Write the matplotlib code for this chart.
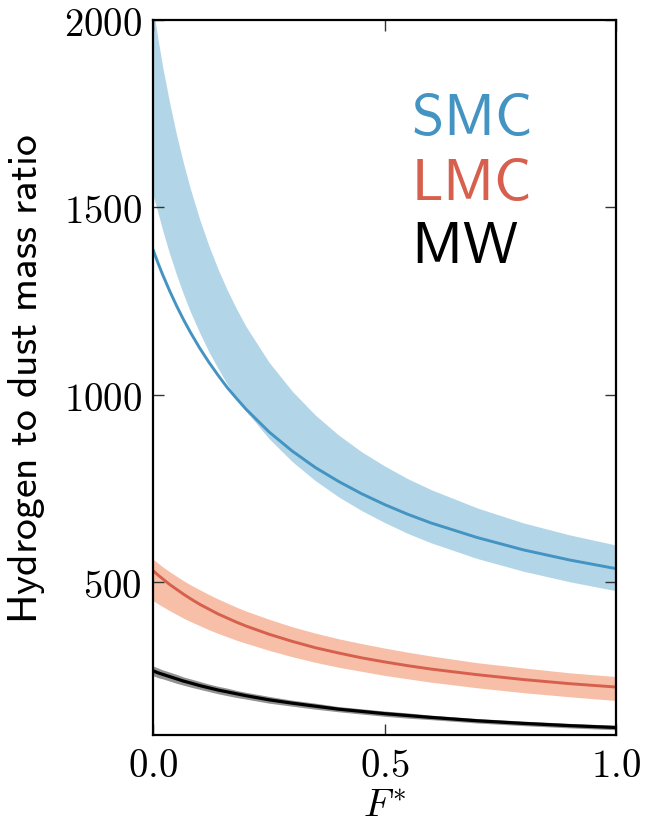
import matplotlib
matplotlib.use("Agg")
import matplotlib.pyplot as plt

plt.rcParams["mathtext.fontset"] = "cm"

f_star = [0.0, 0.01, 0.02, 0.035, 0.05, 0.065, 0.08, 0.1, 0.12, 0.14, 0.16, 0.18, 0.2,
          0.25, 0.3, 0.35, 0.4, 0.45, 0.5, 0.55, 0.6, 0.7, 0.8, 0.9, 1.0]

smc_mid = [1385, 1352, 1321, 1278, 1238, 1201, 1167, 1125, 1087, 1052, 1019, 990, 962,
           901, 850, 806, 769, 736, 707, 681, 658, 619, 586, 559, 536]
smc_hi = [2030, 1950, 1877, 1781, 1695, 1619, 1550, 1469, 1398, 1335, 1279, 1229, 1183,
          1087, 1010, 946, 893, 848, 810, 776, 747, 698, 658, 626, 599]
smc_lo = [1530, 1486, 1440, 1377, 1321, 1269, 1222, 1166, 1115, 1070, 1028, 991, 957,
          883, 822, 771, 728, 691, 659, 630, 605, 563, 529, 501, 477]

lmc_mid = [530, 519, 509, 494, 481, 468, 456, 441, 428, 415, 404, 393, 383,
           361, 342, 325, 311, 298, 287, 277, 268, 253, 240, 229, 220]
lmc_hi = [560, 551, 541, 528, 516, 504, 493, 480, 467, 455, 444, 433, 423,
          401, 381, 364, 349, 336, 324, 313, 303, 285, 271, 258, 248]
lmc_lo = [450, 442, 435, 424, 414, 404, 395, 384, 373, 363, 354, 345, 337,
          318, 301, 286, 273, 262, 251, 242, 233, 218, 205, 194, 184]

mw_mid = [263, 258, 254, 248, 242, 236, 231, 224, 218, 212, 207, 202, 197,
          186, 177, 169, 161, 155, 149, 144, 139, 130, 123, 117, 112]
mw_hi = [276, 271, 266, 260, 254, 247, 242, 235, 228, 222, 217, 211, 206,
         195, 185, 177, 168, 162, 156, 151, 145, 136, 129, 123, 118]
mw_lo = [250, 245, 242, 236, 230, 225, 220, 214, 208, 202, 197, 192, 188,
         177, 169, 161, 154, 148, 142, 137, 133, 124, 117, 111, 106]

labels = ["SMC", "LMC", "MW"]
label_y = [1697, 1523, 1354]

fig = plt.figure(figsize=(6.45, 8.28), dpi=100)
ax = fig.add_axes([0.2377, 0.1111, 0.7173, 0.8635])

ax.fill_between(f_star, smc_lo, smc_hi, color="#92c5de", alpha=0.7, lw=0)
ax.plot(f_star, smc_mid, color="#4393c3", lw=2.1)

ax.fill_between(f_star, lmc_lo, lmc_hi, color="#f4a582", alpha=0.7, lw=0)
ax.plot(f_star, lmc_mid, color="#d6604d", lw=2.1)

ax.fill_between(f_star, mw_lo, mw_hi, color="#777777", alpha=0.8, lw=0)
ax.plot(f_star, mw_mid, color="black", lw=2.3)

colors = ["#4393c3", "#d6604d", "black"]
for name, yy, c in zip(labels, label_y, colors):
    ax.text(0.557, yy, r"$\mathsf{%s}$" % name, color=c, fontsize=42,
            ha="left", va="baseline")

ax.set_xlim(0, 1)
ax.set_ylim(92, 2000)
ax.set_xticks([0.0, 0.5, 1.0])
ax.set_xticklabels([r"$0.0$", r"$0.5$", r"$1.0$"])
ax.set_yticks([500, 1000, 1500, 2000])
ax.set_yticklabels([r"$500$", r"$1000$", r"$1500$", r"$2000$"])
ax.tick_params(direction="in", length=8, width=1, top=True, right=True,
               labelsize=28, pad=8, color="#333333")
for s in ax.spines.values():
    s.set_linewidth(1.6)

ax.set_xlabel(r"$F^{*}$", fontsize=28, labelpad=1)
ax.set_ylabel(r"$\mathsf{Hydrogen\ to\ dust\ mass\ ratio}$", fontsize=30, labelpad=12)

fig.savefig("out.png", dpi=100)
